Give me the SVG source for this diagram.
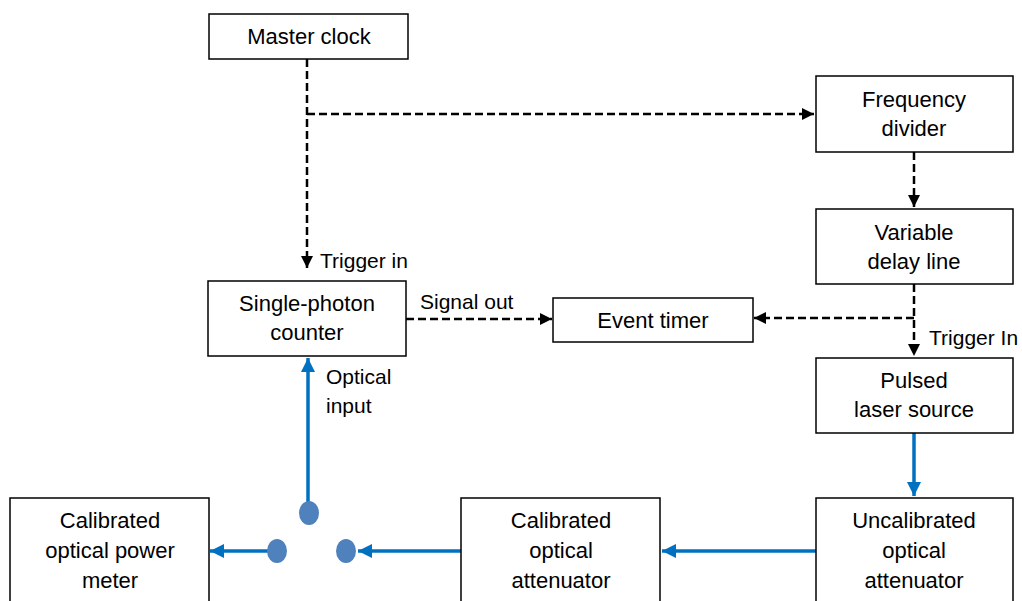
<svg xmlns="http://www.w3.org/2000/svg" width="1022" height="601" viewBox="0 0 1022 601">
<style>
.box{fill:#fff;stroke:#000;stroke-width:1.5}
text{font-family:"Liberation Sans",Arial,sans-serif;font-size:22px;fill:#000;text-anchor:middle}
.lbl{text-anchor:start;font-size:21px}
.dash{fill:none;stroke:#000;stroke-width:2.5;stroke-dasharray:8 4}
.blue{fill:none;stroke:#0070C0;stroke-width:3.5}
.dot{fill:#4F81BD}
</style>
<defs>
<marker id="ab" viewBox="0 0 12 12" refX="12" refY="6" markerWidth="14" markerHeight="14" orient="auto" markerUnits="userSpaceOnUse">
<path d="M0,0 L12,6 L0,12 z" fill="#0070C0"/>
</marker>
<marker id="k" viewBox="0 0 12 12" refX="12" refY="6" markerWidth="12" markerHeight="12" orient="auto" markerUnits="userSpaceOnUse">
<path d="M0,0 L12,6 L0,12 z" fill="#000"/>
</marker>
</defs>
<g id="connectors">
<path class="dash" d="M307,59 V268" marker-end="url(#k)"/>
<path class="dash" d="M307,114 H814" marker-end="url(#k)"/>
<path class="dash" d="M914,152 V207" marker-end="url(#k)"/>
<path class="dash" d="M914,284 V356" marker-end="url(#k)"/>
<path class="dash" d="M914,318 H754" marker-end="url(#k)"/>
<path class="dash" d="M406,319 H552" marker-end="url(#k)"/>
<path class="blue" d="M914,433 V496" marker-end="url(#ab)"/>
<path class="blue" d="M816,551 H662" marker-end="url(#ab)"/>
<path class="blue" d="M461,551 H358" marker-end="url(#ab)"/>
<path class="blue" d="M268,551 H210" marker-end="url(#ab)"/>
<path class="blue" d="M308,505 V358" marker-end="url(#ab)"/>
<ellipse class="dot" cx="309" cy="513" rx="10" ry="12"/>
<ellipse class="dot" cx="277" cy="551" rx="10" ry="12"/>
<ellipse class="dot" cx="346" cy="551" rx="10" ry="12"/>
<text class="lbl" x="320" y="268">Trigger in</text>
<text class="lbl" x="420" y="309">Signal out</text>
<text class="lbl" x="929" y="345">Trigger In</text>
<text class="lbl" x="326" y="384">Optical</text>
<text class="lbl" x="326" y="413">input</text>
</g>
<g id="master-clock"><rect class="box" x="209" y="14" width="199" height="45"/><text x="309" y="44">Master clock</text></g>
<g id="frequency-divider"><rect class="box" x="816" y="76" width="197" height="76"/><text x="914" y="107">Frequency</text><text x="914" y="136">divider</text></g>
<g id="variable-delay-line"><rect class="box" x="816" y="209" width="197" height="75"/><text x="914" y="240">Variable</text><text x="914" y="269">delay line</text></g>
<g id="pulsed-laser-source"><rect class="box" x="816" y="358" width="197" height="75"/><text x="914" y="388">Pulsed</text><text x="914" y="417">laser source</text></g>
<g id="single-photon-counter"><rect class="box" x="208" y="281" width="198" height="75"/><text x="307" y="311">Single-photon</text><text x="307" y="340">counter</text></g>
<g id="event-timer"><rect class="box" x="553" y="298" width="200" height="44"/><text x="653" y="328">Event timer</text></g>
<g id="uncalibrated-attenuator"><rect class="box" x="816" y="498" width="197" height="110"/><text x="914" y="528">Uncalibrated</text><text x="914" y="558">optical</text><text x="914" y="588">attenuator</text></g>
<g id="calibrated-attenuator"><rect class="box" x="461" y="498" width="199" height="110"/><text x="561" y="528">Calibrated</text><text x="561" y="558">optical</text><text x="561" y="588">attenuator</text></g>
<g id="power-meter"><rect class="box" x="10" y="498" width="199" height="110"/><text x="110" y="528">Calibrated</text><text x="110" y="558">optical power</text><text x="110" y="588">meter</text></g>
</svg>
